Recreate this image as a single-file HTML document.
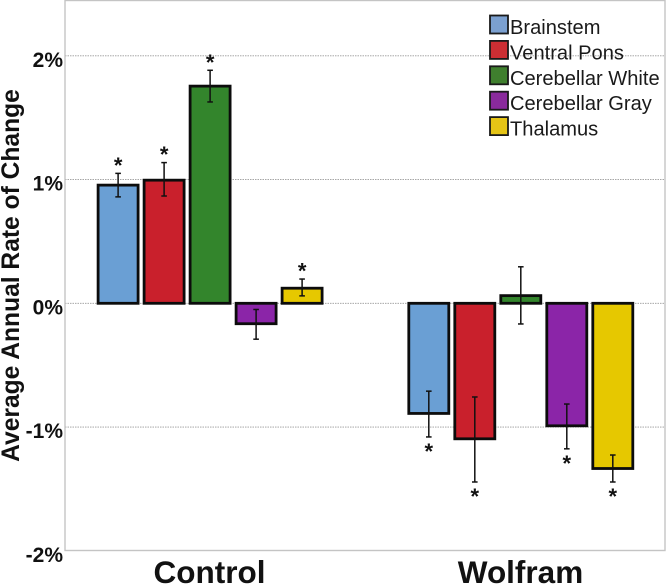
<!DOCTYPE html>
<html>
<head>
<meta charset="utf-8">
<title>Average Annual Rate of Change</title>
<style>
html,body{margin:0;padding:0;background:#fff;}
svg{display:block;font-family:"Liberation Sans",Arial,sans-serif;filter:blur(0.3px);}
</style>
</head>
<body>
<svg id="chart" xmlns="http://www.w3.org/2000/svg" width="666" height="585" viewBox="0 0 666 585">
  <rect x="0" y="0" width="666" height="585" fill="#ffffff"/>
  <g id="grid"></g>
  <rect x="65" y="0.5" width="600" height="550" fill="none" stroke="#c4c4c4" stroke-width="1.4"/>
  <g id="yticks"></g>
  <text transform="translate(19,275.5) rotate(-90)" text-anchor="middle" font-size="24.6" font-weight="bold" fill="#111">Average Annual Rate of Change</text>
  <g id="bars"></g>
  <g id="xlabels"></g>
  <g id="legend"></g>
</svg>
<script>
var groups = ['Control', 'Wolfram'];
var regions = ['Brainstem', 'Ventral Pons', 'Cerebellar White', 'Cerebellar Gray', 'Thalamus'];
var colors = ['#6a9fd4', '#c9202c', '#33852c', '#8b25a8', '#e6c800'];
var legendColors = ['#7ba0d0', '#cc2e33', '#3f7f2e', '#8a2a9c', '#e5c416'];
var controlValues = [0.955, 0.995, 1.755, -0.165, 0.122];
var wolframValues = [-0.89, -1.095, 0.062, -0.99, -1.335];
var controlErrHigh = [1.05, 1.137, 1.883, -0.05, 0.196];
var controlErrLow = [0.86, 0.867, 1.627, -0.29, 0.06];
var wolframErrHigh = [-0.71, -0.757, 0.295, -0.814, -1.226];
var wolframErrLow = [-1.08, -1.444, -0.167, -1.176, -1.444];
var controlSig = [true, true, true, false, true];
var wolframSig = [true, true, false, true, true];
var yTicks = [2, 1, 0, -1, -2];

var NS = 'http://www.w3.org/2000/svg';
function y(v) { return 303.3 - v * 123.75; }
function x(groupIndex, regionIndex) {
  return (groupIndex === 0 ? 98.1 : 408.8) + regionIndex * 46;
}
function make(parent, tag, attrs, text) {
  var el = document.createElementNS(NS, tag);
  for (var k in attrs) el.setAttribute(k, attrs[k]);
  if (text !== undefined) el.textContent = text;
  parent.appendChild(el);
  return el;
}

var gridG = document.getElementById('grid');
var tickG = document.getElementById('yticks');
yTicks.forEach(function (t) {
  if (t !== -2) {
    var gl = make(gridG, 'line', {x1: 65, x2: 665, y1: y(t), y2: y(t), stroke: '#9a9a9a', 'stroke-width': 0.9, 'stroke-dasharray': '1.5 1'});
    
    
  }
  var lb = make(tickG, 'text', {x: 63, y: y(t) + 11, 'text-anchor': 'end', 'font-size': 21, 'font-weight': 'bold', fill: '#111'}, t + '%');
  
  
});

var barsG = document.getElementById('bars');
var BAR_W = 40;
function drawGroup(gi, vals, hi, lo, sig) {
  vals.forEach(function (v, i) {
    var left = x(gi, i);
    var top = Math.min(y(v), y(0));
    var h = Math.abs(y(v) - y(0));
    var r = make(barsG, 'rect', {x: left, y: top, width: BAR_W, height: h, fill: colors[i], stroke: '#0c0c0c', 'stroke-width': 2.8});
    
    
    var cx = left + BAR_W / 2;
    var stem = make(barsG, 'line', {x1: cx, x2: cx, y1: y(hi[i]), y2: y(lo[i]), stroke: '#111', 'stroke-width': 1.5});
    
    
    [hi[i], lo[i]].forEach(function (e) {
      var cap = make(barsG, 'line', {x1: cx - 2.8, x2: cx + 2.8, y1: y(e), y2: y(e), stroke: '#111', 'stroke-width': 1.5});
      
      
    });
    if (sig[i]) {
      var sy = v >= 0 ? y(hi[i]) - 0.5 : y(lo[i]) + 22;
      var st = make(barsG, 'text', {x: cx, y: sy, 'text-anchor': 'middle', 'font-size': 22, 'font-weight': 'bold', fill: '#111'}, '*');
      
      
    }
  });
}
drawGroup(0, controlValues, controlErrHigh, controlErrLow, controlSig);
drawGroup(1, wolframValues, wolframErrHigh, wolframErrLow, wolframSig);

var xG = document.getElementById('xlabels');
groups.forEach(function (g, i) {
  var t = make(xG, 'text', {x: i === 0 ? 209.5 : 520.5, y: 583, 'text-anchor': 'middle', 'font-size': 31.5, 'font-weight': 'bold', fill: '#111'}, g);
  
  
});

var legG = document.getElementById('legend');
regions.forEach(function (name, i) {
  var ly = 15.5 + i * 25.4;
  var sw = make(legG, 'rect', {x: 490, y: ly, width: 18, height: 18, fill: legendColors[i], stroke: '#1a1a1a', 'stroke-width': 1.8});
  
  
  var lt = make(legG, 'text', {x: 510, y: ly + 18.5, 'font-size': 20.1, fill: '#1a1a1a'}, name);
  
  
});
</script>
</body>
</html>
